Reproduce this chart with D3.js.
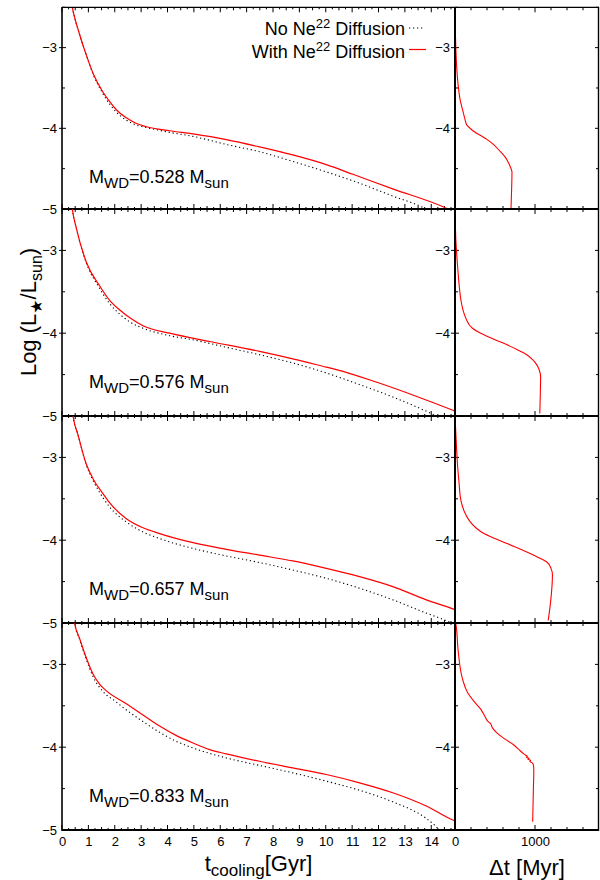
<!DOCTYPE html>
<html><head><meta charset="utf-8">
<script src="https://cdn.jsdelivr.net/npm/d3@7"></script>
<style>
body{margin:0;background:#fff}
svg{display:block}
text{font-family:"Liberation Sans",Arial,Helvetica,sans-serif;fill:#000}
</style>
</head><body><svg id="c" width="600" height="880"></svg>
<script>
// ---------------- DATA ----------------
const massLabels = ["0.528", "0.576", "0.657", "0.833"];
const tickLabelsT = [0,1,2,3,4,5,6,7,8,9,10,11,12,13,14];
const tickLabelsDt = [0, 1000];
const tickLabelsL = [-3, -4, -5];
const tickLabelsLRight = [-3, -4];

// [t_cooling (Gyr), log L]
const noDiff_0528 = [[0.36,-2.45],[0.39,-2.5],[0.67,-2.84],[0.92,-3.09],[1.18,-3.33],[1.55,-3.57],[2.06,-3.80],[2.44,-3.90],[2.82,-3.96],[3.2,-3.99],[4.08,-4.05],[4.97,-4.10],[6.23,-4.20],[7.49,-4.29],[8.75,-4.41],[10.02,-4.54],[11.28,-4.68],[12.54,-4.84],[13.68,-4.98],[13.8,-5.0]];
const withDiff_0528 = [[0.36,-2.45],[0.39,-2.5],[0.67,-2.84],[0.92,-3.09],[1.18,-3.32],[1.55,-3.55],[1.81,-3.67],[2.06,-3.77],[2.44,-3.87],[2.82,-3.94],[3.2,-3.98],[4.08,-4.03],[4.97,-4.07],[6.23,-4.14],[7.49,-4.23],[8.75,-4.33],[10.02,-4.45],[11.03,-4.57],[12.54,-4.75],[14.57,-4.99],[14.7,-5.01]];
const noDiff_0576 = [[0.37,-2.45],[0.39,-2.5],[0.55,-2.74],[0.92,-3.15],[1.43,-3.46],[1.8,-3.64],[2.19,-3.77],[2.6,-3.87],[3.07,-3.94],[4.08,-4.03],[4.97,-4.08],[6.23,-4.17],[7.49,-4.26],[8.75,-4.36],[10.02,-4.48],[11.28,-4.62],[12.54,-4.77],[14.0,-4.97],[14.2,-5.0]];
const withDiff_0576 = [[0.37,-2.45],[0.39,-2.5],[0.55,-2.74],[0.92,-3.14],[1.43,-3.43],[1.8,-3.60],[2.19,-3.72],[2.6,-3.82],[3.07,-3.91],[4.08,-4.0],[5.6,-4.10],[7.49,-4.22],[8.75,-4.31],[10.02,-4.41],[10.4,-4.44],[11.91,-4.59],[13.5,-4.77],[14.82,-4.93],[14.9,-4.94]];
const noDiff_0657 = [[0.40,-2.45],[0.42,-2.5],[0.61,-2.73],[0.92,-3.09],[1.18,-3.28],[1.56,-3.49],[1.81,-3.60],[2.44,-3.78],[3.07,-3.90],[3.7,-3.98],[4.97,-4.10],[6.23,-4.19],[7.49,-4.27],[8.75,-4.36],[10.02,-4.46],[11.28,-4.58],[12.54,-4.72],[13.81,-4.88],[14.63,-4.98],[14.9,-5.02]];
const withDiff_0657 = [[0.40,-2.45],[0.42,-2.5],[0.61,-2.73],[0.92,-3.08],[1.18,-3.26],[1.56,-3.44],[1.81,-3.55],[2.44,-3.74],[3.07,-3.85],[3.7,-3.92],[4.97,-4.03],[6.23,-4.11],[7.49,-4.18],[8.75,-4.25],[10.02,-4.34],[11.28,-4.44],[12.54,-4.56],[13.81,-4.72],[14.82,-4.83],[14.9,-4.84]];
const noDiff_0833 = [[0.46,-2.45],[0.48,-2.5],[0.67,-2.70],[0.92,-2.94],[1.18,-3.15],[1.56,-3.33],[2.0,-3.44],[2.44,-3.55],[3.07,-3.69],[3.7,-3.82],[4.34,-3.93],[4.97,-4.01],[6.23,-4.13],[7.49,-4.22],[8.75,-4.31],[10.02,-4.41],[11.28,-4.52],[12.54,-4.66],[13.81,-4.86],[14.12,-4.94],[14.3,-5.0]];
const withDiff_0833 = [[0.46,-2.45],[0.48,-2.5],[0.67,-2.69],[0.92,-2.92],[1.18,-3.12],[1.43,-3.24],[1.65,-3.31],[2.44,-3.475],[3.07,-3.61],[3.7,-3.745],[4.34,-3.86],[4.97,-3.95],[5.6,-4.03],[6.23,-4.08],[7.49,-4.17],[8.75,-4.25],[10.02,-4.33],[11.28,-4.43],[12.54,-4.55],[13.81,-4.71],[14.82,-4.88],[14.9,-4.89]];

// [delta t (Myr), log L]
const deltaT_0528 = [[0,-2.5],[4,-2.8],[10,-2.99],[25,-3.3],[41,-3.48],[65,-3.65],[95,-3.77],[125,-3.89],[148,-3.96],[190,-4.0],[238,-4.04],[320,-4.09],[403,-4.14],[480,-4.2],[568,-4.29],[630,-4.36],[670,-4.43],[700,-4.5],[712,-4.54],[708,-4.75],[700,-4.99]];
const deltaT_0576 = [[0,-2.5],[12,-2.9],[33,-3.2],[50,-3.4],[74,-3.6],[100,-3.72],[136,-3.82],[218,-3.94],[362,-4.02],[500,-4.08],[650,-4.14],[780,-4.2],[897,-4.26],[970,-4.32],[1021,-4.38],[1055,-4.45],[1070,-4.52],[1066,-4.75],[1060,-4.97]];
const deltaT_0657 = [[0,-2.5],[15,-2.8],[33,-3.11],[50,-3.3],[74,-3.52],[115,-3.65],[177,-3.76],[260,-3.85],[362,-3.92],[500,-3.98],[650,-4.04],[820,-4.11],[979,-4.18],[1144,-4.26],[1200,-4.34],[1218,-4.42],[1200,-4.7],[1165,-4.97]];
const deltaT_0833 = [[0,-2.5],[12,-2.52],[41,-2.85],[95,-3.18],[157,-3.34],[240,-3.45],[321,-3.54],[340,-3.57],[370,-3.62],[424,-3.70],[440,-3.71],[470,-3.77],[527,-3.83],[620,-3.9],[732,-3.97],[800,-4.03],[860,-4.08],[880,-4.095],[905,-4.11],[890,-4.12],[925,-4.135],[910,-4.145],[945,-4.16],[935,-4.17],[965,-4.19],[979,-4.21],[985,-4.27],[980,-4.5],[971,-4.9]];

// ---------------- LAYOUT ----------------
const svg = d3.select("#c");
const X0 = 62, XM = 455, X1 = 599;
const FONT = '"Liberation Sans",Arial,sans-serif';
const panels = [
  {top: 7.3, bot: 209, mass: massLabels[0], noD: noDiff_0528, withD: withDiff_0528, dt: deltaT_0528},
  {top: 209, bot: 416, mass: massLabels[1], noD: noDiff_0576, withD: withDiff_0576, dt: deltaT_0576},
  {top: 416, bot: 623, mass: massLabels[2], noD: noDiff_0657, withD: withDiff_0657, dt: deltaT_0657},
  {top: 623, bot: 830, mass: massLabels[3], noD: noDiff_0833, withD: withDiff_0833, dt: deltaT_0833}
];
const xL = d3.scaleLinear().domain([0, 14.9]).range([X0, XM]);
const xR = d3.scaleLinear().domain([0, 1800]).range([XM, X1]);
const RED = "#ff0000";
const fmtInt = d3.format("d");

const defs = svg.append("defs");

panels.forEach((p, i) => {
  const y = d3.scaleLinear().domain([-5, -2.5]).range([p.bot, p.top]);
  const g = svg.append("g");

  defs.append("clipPath").attr("id", "cl" + i).append("rect")
    .attr("x", X0).attr("y", p.top).attr("width", XM - X0).attr("height", p.bot - p.top);
  defs.append("clipPath").attr("id", "cr" + i).append("rect")
    .attr("x", XM).attr("y", p.top).attr("width", X1 - XM).attr("height", p.bot - p.top);

  // x ticks (left panel): inward at bottom and top
  d3.range(0, 14.9, 0.25).forEach(t => {
    const len = Math.abs(t - Math.round(t)) < 1e-6 ? 5 : (Math.abs(t*2 - Math.round(t*2)) < 1e-6 ? 3 : 2);
    g.append("line").attr("x1", xL(t)).attr("x2", xL(t)).attr("y1", p.bot).attr("y2", p.bot - len)
      .attr("stroke", "#000").attr("stroke-width", 1);
    g.append("line").attr("x1", xL(t)).attr("x2", xL(t)).attr("y1", p.top).attr("y2", p.top + len)
      .attr("stroke", "#000").attr("stroke-width", 1);
  });
  // x ticks (right panel)
  d3.range(200, 1800, 200).forEach(v => {
    const len = v === 1000 ? 5 : 3;
    g.append("line").attr("x1", xR(v)).attr("x2", xR(v)).attr("y1", p.bot).attr("y2", p.bot - len)
      .attr("stroke", "#000").attr("stroke-width", 1);
    g.append("line").attr("x1", xR(v)).attr("x2", xR(v)).attr("y1", p.top).attr("y2", p.top + len)
      .attr("stroke", "#000").attr("stroke-width", 1);
  });

  // y ticks
  [-2.5, -3, -3.5, -4, -4.5].forEach(v => {
    const major = Number.isInteger(v);
    g.append("line").attr("x1", X0 - (major ? 3 : 0)).attr("x2", X0 + (major ? 4 : 3))
      .attr("y1", y(v)).attr("y2", y(v)).attr("stroke", "#000").attr("stroke-width", 1);
    g.append("line").attr("x1", XM - (major ? 4 : 0)).attr("x2", XM + (major ? 4 : 3))
      .attr("y1", y(v)).attr("y2", y(v)).attr("stroke", "#000").attr("stroke-width", 1);
    g.append("line").attr("x1", X1 - (major ? 4 : 3)).attr("x2", X1)
      .attr("y1", y(v)).attr("y2", y(v)).attr("stroke", "#000").attr("stroke-width", 1);
  });

  // left y labels via d3 axis
  const axL = d3.axisLeft(y).tickValues(tickLabelsL).tickSize(0).tickPadding(4).tickFormat(fmtInt);
  const gaL = svg.append("g").attr("transform", `translate(${X0 - 1},0)`).call(axL);
  gaL.select(".domain").remove();
  gaL.selectAll("text").style("font-size", "13px").style("font-family", FONT);

  // right panel y labels
  const axR = d3.axisLeft(y).tickValues(tickLabelsLRight).tickSize(0).tickPadding(5).tickFormat(fmtInt);
  const gaR = svg.append("g").attr("transform", `translate(${XM},0)`).call(axR);
  gaR.select(".domain").remove();
  gaR.selectAll("text").style("font-size", "13px").style("font-family", FONT);

  // curves
  const lineL = d3.line().x(d => xL(d[0])).y(d => y(d[1])).curve(d3.curveMonotoneX);
  const lineR = d3.line().x(d => xR(d[0])).y(d => y(d[1])).curve(d3.curveMonotoneY);
  svg.append("path").attr("clip-path", `url(#cl${i})`).attr("d", lineL(p.noD))
    .attr("fill", "none").attr("stroke", "#000").attr("stroke-width", 1.1).attr("stroke-dasharray", "1.2,2.8");
  svg.append("path").attr("clip-path", `url(#cl${i})`).attr("d", lineL(p.withD))
    .attr("fill", "none").attr("stroke", RED).attr("stroke-width", 1.2);
  svg.append("path").attr("clip-path", `url(#cr${i})`).attr("d", lineR(p.dt))
    .attr("fill", "none").attr("stroke", RED).attr("stroke-width", 1.1);

  // mass label
  const t = svg.append("text").attr("x", 89).attr("y", p.bot - (i === 0 ? 26 : 28)).style("font-size", "18px");
  t.append("tspan").text("M");
  t.append("tspan").attr("dy", 5).style("font-size", "15px").text("WD");
  t.append("tspan").attr("dy", -5).text("=" + p.mass + " M");
  t.append("tspan").attr("dy", 5).style("font-size", "15px").text("sun");

  // horizontal separator (bottom of panel)
  svg.append("line").attr("x1", X0).attr("x2", X1).attr("y1", p.bot).attr("y2", p.bot)
    .attr("stroke", "#000").attr("stroke-width", 2);
});

// top border
svg.append("line").attr("x1", X0).attr("x2", X1).attr("y1", 7.3).attr("y2", 7.3).attr("stroke", "#000").attr("stroke-width", 1.2);
// left axis
svg.append("line").attr("x1", X0).attr("x2", X0).attr("y1", 7).attr("y2", 831).attr("stroke", "#000").attr("stroke-width", 1.6);
// middle axis
svg.append("line").attr("x1", XM).attr("x2", XM).attr("y1", 7).attr("y2", 831).attr("stroke", "#000").attr("stroke-width", 2);
// right edge
svg.append("line").attr("x1", X1 - 0.5).attr("x2", X1 - 0.5).attr("y1", 7).attr("y2", 831).attr("stroke", "#000").attr("stroke-width", 1.4);

// bottom x axes labels
const axB = d3.axisBottom(xL).tickValues(tickLabelsT).tickSize(0).tickPadding(7).tickFormat(fmtInt);
const gB = svg.append("g").attr("transform", "translate(0,830)").call(axB);
gB.select(".domain").remove();
gB.selectAll("text").style("font-size", "13px").style("font-family", FONT);
const axB2 = d3.axisBottom(xR).tickValues(tickLabelsDt).tickSize(0).tickPadding(7).tickFormat(fmtInt);
const gB2 = svg.append("g").attr("transform", "translate(0,830)").call(axB2);
gB2.select(".domain").remove();
gB2.selectAll("text").style("font-size", "13px").style("font-family", FONT);

// axis titles
const tx = svg.append("text").attr("x", (X0 + XM) / 2).attr("y", 871).attr("text-anchor", "middle").style("font-size", "22px");
tx.append("tspan").text("t");
tx.append("tspan").attr("dy", 4.5).style("font-size", "17px").text("cooling");
tx.append("tspan").attr("dy", -4.5).text("[Gyr]");

svg.append("text").attr("x", (XM + X1) / 2).attr("y", 875).attr("text-anchor", "middle").style("font-size", "22px").text("Δt [Myr]");

const ty = svg.append("text").attr("transform", "translate(36,312) rotate(-90)").attr("text-anchor", "middle").style("font-size", "22px");
ty.append("tspan").text("Log (L");
ty.append("tspan").attr("dy", 6).style("font-size", "16px").style("font-family", '"DejaVu Sans",sans-serif').text("★");
ty.append("tspan").attr("dy", -6).text("/L");
ty.append("tspan").attr("dy", 6).style("font-size", "16px").text("sun");
ty.append("tspan").attr("dy", -6).text(")");

// legend
const lg1 = svg.append("text").attr("x", 405).attr("y", 35).attr("text-anchor", "end").style("font-size", "18px");
lg1.append("tspan").text("No Ne");
lg1.append("tspan").attr("dy", -7).style("font-size", "13px").text("22");
lg1.append("tspan").attr("dy", 7).text(" Diffusion");
const lg2 = svg.append("text").attr("x", 405).attr("y", 57.7).attr("text-anchor", "end").style("font-size", "18px");
lg2.append("tspan").text("With Ne");
lg2.append("tspan").attr("dy", -7).style("font-size", "13px").text("22");
lg2.append("tspan").attr("dy", 7).text(" Diffusion");
svg.append("line").attr("x1", 409).attr("x2", 424).attr("y1", 28).attr("y2", 28)
  .attr("stroke", "#000").attr("stroke-width", 1.1).attr("stroke-dasharray", "1.2,2.8");
svg.append("line").attr("x1", 409).attr("x2", 426).attr("y1", 49.5).attr("y2", 49.5)
  .attr("stroke", RED).attr("stroke-width", 1.2);
</script></body></html>
